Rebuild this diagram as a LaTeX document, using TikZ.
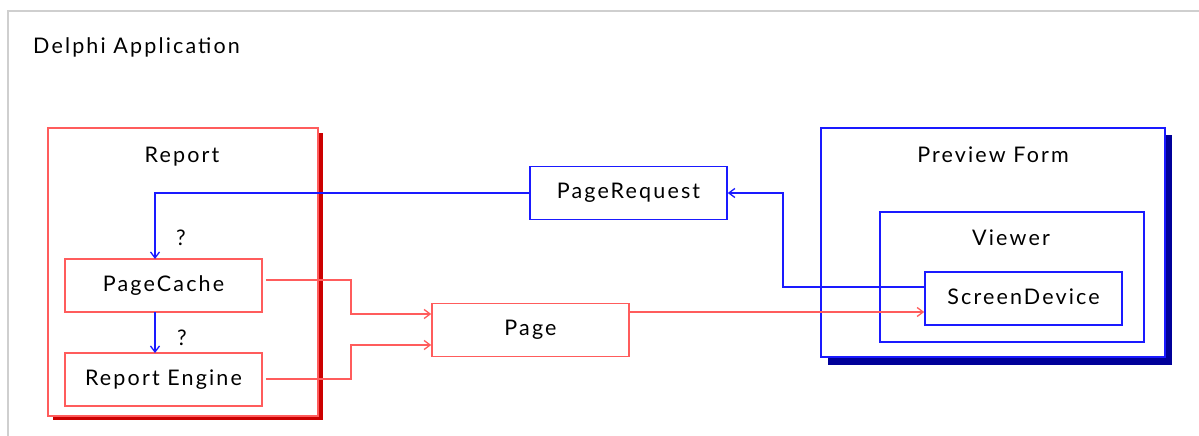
\documentclass[tikz,border=0pt]{standalone}
\usepackage{fontspec}
\setmainfont[LetterSpace=10]{Lato}
\usetikzlibrary{arrows.meta}
\definecolor{rline}{HTML}{FF5C5C}
\definecolor{bline}{HTML}{1A1AFF}
\definecolor{rshadow}{HTML}{CC0000}
\definecolor{bshadow}{HTML}{000099}
\definecolor{frame}{HTML}{CFCFCF}
\tikzset{
  x=1pt,y=-1pt,
  txt/.style={font=\fontsize{21.5}{25}\selectfont},
  lbl/.style={txt, text=black, inner sep=0pt},
  boxbase/.style={txt, line width=1.6pt, fill=white, minimum width=197pt, minimum height=53pt, inner sep=0pt, text height=15.5pt, text depth=4.5pt},
  rbox/.style={boxbase, draw=rline},
  bbox/.style={boxbase, draw=bline},
  rconn/.style={draw=rline, line width=1.3pt, -{Straight Barb[length=6pt,width=9pt]}},
  bconn/.style={draw=bline, line width=1.3pt, -{Straight Barb[length=6pt,width=9pt]}},
}
\begin{document}
\begin{tikzpicture}
\useasboundingbox (0,0) rectangle (1199,436);
\fill[white] (0,0) rectangle (1199,436);
% outer frame
\draw[frame, line width=2pt] (1199,11) -- (8,11) -- (8,436);
\node[lbl, anchor=base west] (app) at (33,53) {Delphi Application};

% Report container
\fill[rshadow] (53,133) rectangle (323,420);
\draw[rline, line width=1.6pt, fill=white] (48,128) rectangle (318,416);
\node[lbl, anchor=base] (report) at (182,162) {Report};

% Preview form container
\fill[bshadow] (828,135) rectangle (1172,365);
\draw[bline, line width=1.6pt, fill=white] (821,128) rectangle (1165,357);
\node[lbl, anchor=base] (pform) at (993,162) {Preview Form};
\draw[bline, line width=1.6pt] (880,212) rectangle (1144,342);
\node[lbl, anchor=base] (viewer) at (1011,245) {Viewer};

% boxes
\node[rbox] (cache) at (163.5,285.5) {PageCache};
\node[rbox] (engine) at (163.5,379.5) {Report Engine};
\node[rbox] (page) at (530.5,330) {Page};
\node[bbox] (request) at (628.5,193) {PageRequest};
\node[bbox] (screen) at (1023.5,298.5) {ScreenDevice};

% connectors
\coordinate (cacheIn) at (155,259);
\coordinate (cacheOut) at (155,312);
\coordinate (engineIn) at (155,353);
\draw[bconn] (request.west) -- (155,193) -- (cacheIn);
\draw[bconn] (cacheOut) -- (engineIn);
\node[lbl, anchor=base] (q1) at (181,245) {?};
\node[lbl, anchor=base] (q2) at (182,345) {?};

\draw[rconn] ([xshift=3pt]cache.east |- 0,280) -- (351,280) -- (351,314) -- (page.west |- 0,314);
\draw[rconn] ([xshift=3pt]engine.east |- 0,379) -- (351,379) -- (351,345) -- (page.west |- 0,345);
\draw[rconn] (page.east |- 0,312) -- (screen.west |- 0,312);
\draw[bconn] (screen.west |- 0,287) -- (783,287) -- (783,193) -- (request.east);
\end{tikzpicture}
\end{document}
